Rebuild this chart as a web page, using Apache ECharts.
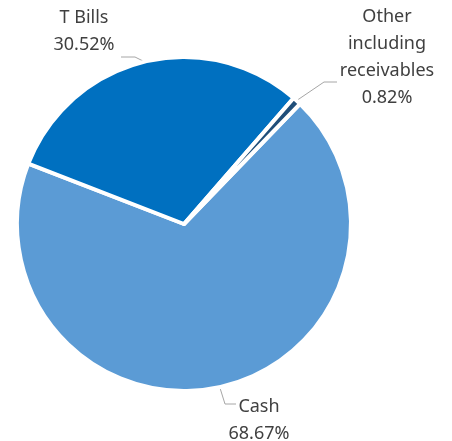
<!DOCTYPE html>
<html>
<head>
<meta charset="utf-8">
<script src="https://cdn.jsdelivr.net/npm/echarts@6/dist/echarts.min.js"></script>
<style>html,body{margin:0;padding:0;background:#fff}#c{width:452px;height:441px}</style>
</head>
<body>
<div id="c"></div>
<script>
const categories = ['Cash', 'T Bills', 'Other\nincluding\nreceivables'];
const values = [68.67, 30.52, 0.82];
const colors = ['#5B9BD5', '#0070C0', '#1F4E79'];

// label placement (text centre) and leader line points
const labelPos = [
  {x: 259, y: 420, line: [[220, 388], [225, 404], [236, 404]]},
  {x: 84, y: 31, line: [[145, 62], [135, 57], [121, 57]]},
  {x: 387, y: 57, line: [[296, 101], [324, 82], [337, 82]]}
];

const chart = echarts.init(document.getElementById('c'), null, {renderer: 'canvas'});
chart.setOption({
  animation: false,
  backgroundColor: '#fff',
  series: [{
    type: 'pie',
    center: [184, 224],
    radius: 167,
    startAngle: 46,
    clockwise: true,
    data: categories.map((n, i) => ({name: n, value: values[i], itemStyle: {color: colors[i]}})),
    itemStyle: {borderColor: '#fff', borderWidth: 4},
    label: {
      show: true,
      formatter: p => p.name + '\n' + p.value.toFixed(2) + '%',
      fontFamily: 'Noto Sans',
      fontSize: 18,
      lineHeight: 27,
      color: '#404040',
      align: 'center'
    },
    labelLine: {show: true, lineStyle: {color: '#A6A6A6', width: 1}},
    labelLayout: function (params) {
      const p = labelPos[params.dataIndex];
      return {x: p.x, y: p.y, align: 'center', verticalAlign: 'middle', labelLinePoints: p.line};
    }
  }]
});
</script>
</body>
</html>
